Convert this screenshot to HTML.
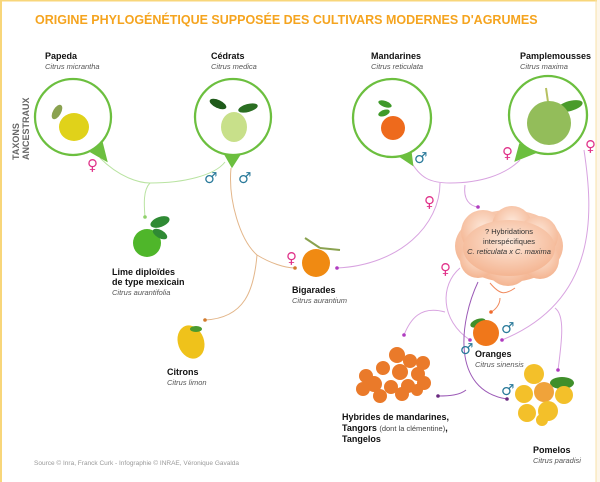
<!DOCTYPE html>
<html><head><meta charset="utf-8"><style>
html,body{margin:0;padding:0;background:#fff;}
svg{display:block;font-family:"Liberation Sans",sans-serif;}
.b{font-weight:bold;font-size:9px;fill:#111;}
.i{font-style:italic;font-size:7.5px;fill:#555;}
.f{fill:#e0338a;font-size:15px;font-family:"DejaVu Sans",sans-serif;}
.m{fill:#2a7a9a;font-size:15px;font-family:"DejaVu Sans",sans-serif;}
</style></head><body>
<svg width="600" height="482" viewBox="0 0 600 482" xmlns="http://www.w3.org/2000/svg">
<defs>
<radialGradient id="cl" cx="50%" cy="40%" r="60%"><stop offset="0" stop-color="#fde8da"/><stop offset="1" stop-color="#f4b592"/></radialGradient>
</defs>
<rect x="0" y="0" width="600" height="482" fill="#fff"/>
<rect x="596" y="0" width="4" height="482" fill="#fdf6ea"/>
<rect x="0" y="0" width="2" height="482" fill="#f8d67a"/>
<rect x="0" y="0" width="597" height="1.5" fill="#f8d67a"/>
<line x1="596" y1="0" x2="596" y2="482" stroke="#f8e2a8" stroke-width="1"/>
<text x="35" y="24" font-size="12.5" font-weight="bold" fill="#f5a41f">ORIGINE PHYLOGÉNÉTIQUE SUPPOSÉE DES CULTIVARS MODERNES D'AGRUMES</text>
<text transform="translate(19,160) rotate(-90)" font-size="9" font-weight="bold" fill="#666">TAXONS</text>
<text transform="translate(29,160) rotate(-90)" font-size="9" font-weight="bold" fill="#666">ANCESTRAUX</text>

<g fill="none" stroke-width="1">
<path d="M100,158 C120,178 140,183 150,183 C185,183 215,175 225,162" stroke="#b9e3a1"/>
<path d="M150,183 C143,190 144,205 145,217" stroke="#b9e3a1"/>
<path d="M231,168 C228,200 240,240 257,255 C270,263 285,268 295,268" stroke="#e3b68a"/>
<path d="M257,255 C254,290 245,318 205,320" stroke="#e3b68a"/>
<path d="M410,160 C420,178 430,183 450,183 C480,183 505,175 520,160" stroke="#d8a3e0"/>
<path d="M440,183 C440,225 400,265 337,268" stroke="#d8a3e0"/>
<path d="M465,185 C463,200 470,206 478,207" stroke="#d8a3e0"/>
<path d="M584,150 C593,210 600,300 502,340" stroke="#d8a3e0"/>
<path d="M555,308 C565,315 562,340 558,370" stroke="#d8a3e0"/>
<path d="M460,268 C440,285 440,320 470,340" stroke="#d8a3e0"/>
<path d="M478,282 C460,320 450,390 507,399" stroke="#9b59b6"/>
<path d="M445,312 C420,305 410,320 404,335" stroke="#d8a3e0"/>
<path d="M466,390 C460,395 450,396 438,396" stroke="#9b59b6"/>
<path d="M490,283 C500,295 505,295 515,288 M500,298 C500,305 495,310 491,312" stroke="#f08a5d"/>
</g>
<g>
<circle cx="145" cy="217" r="1.8" fill="#8fd16a"/>
<circle cx="295" cy="268" r="1.8" fill="#d27a2c"/>
<circle cx="205" cy="320" r="1.8" fill="#d27a2c"/>
<circle cx="337" cy="268" r="1.8" fill="#b03cc0"/>
<circle cx="478" cy="207" r="1.8" fill="#b03cc0"/>
<circle cx="502" cy="340" r="1.8" fill="#b03cc0"/>
<circle cx="558" cy="370" r="1.8" fill="#b03cc0"/>
<circle cx="470" cy="340" r="1.8" fill="#b03cc0"/>
<circle cx="507" cy="399" r="1.8" fill="#6a2a80"/>
<circle cx="404" cy="335" r="1.8" fill="#b03cc0"/>
<circle cx="438" cy="396" r="1.8" fill="#6a2a80"/>
<circle cx="491" cy="312" r="1.8" fill="#f06a2d"/>
</g>

<g fill="#fff" stroke="#6cbf3f" stroke-width="2.3">
<path d="M92,152 L106,160 L102,144Z" fill="#6cbf3f"/>
<circle cx="73" cy="117" r="38"/>
<path d="M224,152 L232,166 L241,152Z" fill="#6cbf3f"/>
<circle cx="233" cy="117" r="38"/>
<path d="M394,152 L412,164 L410,148Z" fill="#6cbf3f"/>
<circle cx="392" cy="118" r="39"/>
<path d="M520,145 L516,160 L536,152Z" fill="#6cbf3f"/>
<circle cx="548" cy="115" r="39"/>
</g>
<ellipse cx="57" cy="112" rx="4" ry="8" fill="#8aa250" transform="rotate(30 57 112)"/>
<ellipse cx="74" cy="127" rx="15" ry="14" fill="#e0d21a"/>
<ellipse cx="218" cy="104" rx="9" ry="4" fill="#1f5a1a" transform="rotate(25 218 104)"/>
<ellipse cx="248" cy="108" rx="10" ry="4" fill="#2a6e22" transform="rotate(-15 248 108)"/>
<ellipse cx="234" cy="127" rx="13" ry="15" fill="#c8e08a"/>
<ellipse cx="385" cy="104" rx="7" ry="3" fill="#3f9a2a" transform="rotate(20 385 104)"/>
<ellipse cx="384" cy="113" rx="6" ry="3" fill="#3f9a2a" transform="rotate(-20 384 113)"/>
<circle cx="393" cy="128" r="12" fill="#ee6a1c"/>
<line x1="546" y1="88" x2="548" y2="102" stroke="#b6c060" stroke-width="2"/>
<ellipse cx="570" cy="106" rx="13" ry="5" fill="#4a9b2a" transform="rotate(-15 570 106)"/>
<circle cx="549" cy="123" r="22" fill="#93bd5a"/>

<ellipse cx="160" cy="222" rx="10" ry="5" fill="#2f8a34" transform="rotate(-20 160 222)"/>
<circle cx="147" cy="243" r="14" fill="#4fb62a"/>
<ellipse cx="160" cy="234" rx="8" ry="4" fill="#2f8a34" transform="rotate(30 160 234)"/>
<ellipse cx="191" cy="342" rx="13" ry="17" fill="#efc21b" transform="rotate(-20 191 342)"/>
<ellipse cx="196" cy="329" rx="6" ry="3" fill="#4b9a2e"/>
<path d="M305,238 L320,248 M320,248 L340,250" stroke="#8aa250" stroke-width="2" fill="none"/>
<circle cx="316" cy="263" r="14" fill="#f08a12"/>
<ellipse cx="478" cy="323" rx="8" ry="4" fill="#3f8f2a" transform="rotate(-20 478 323)"/>
<circle cx="486" cy="333" r="13" fill="#f0771a"/>
<g fill="#ea7a2a">
<circle cx="397" cy="355" r="8"/><circle cx="410" cy="361" r="7"/><circle cx="383" cy="368" r="7"/><circle cx="400" cy="372" r="8"/>
<circle cx="418" cy="374" r="7"/><circle cx="423" cy="363" r="7"/><circle cx="366" cy="376" r="7"/><circle cx="374" cy="384" r="8"/>
<circle cx="391" cy="387" r="7"/><circle cx="408" cy="386" r="7"/><circle cx="424" cy="383" r="7"/><circle cx="363" cy="389" r="7"/>
<circle cx="380" cy="396" r="7"/><circle cx="402" cy="394" r="7"/><circle cx="417" cy="390" r="6"/>
</g>
<ellipse cx="562" cy="383" rx="12" ry="6" fill="#3f8f2a"/>
<g fill="#f3c02a">
<circle cx="534" cy="374" r="10"/><circle cx="524" cy="394" r="9"/><circle cx="544" cy="392" r="10" fill="#f0a33a"/><circle cx="564" cy="395" r="9"/>
<circle cx="527" cy="413" r="9"/><circle cx="548" cy="411" r="10"/><circle cx="542" cy="420" r="6"/>
</g>

<g fill="url(#cl)">
<ellipse cx="509" cy="246" rx="54" ry="36"/>
<circle cx="483" cy="232" r="22"/><circle cx="512" cy="226" r="20"/><circle cx="538" cy="236" r="20"/>
<circle cx="540" cy="260" r="19"/><circle cx="508" cy="264" r="22"/><circle cx="478" cy="260" r="18"/>
<ellipse cx="509" cy="248" rx="46" ry="28"/>
</g>
<text x="509" y="234" font-size="7.5" fill="#333" text-anchor="middle">? Hybridations</text>
<text x="509" y="244" font-size="7.5" fill="#333" text-anchor="middle">interspécifiques</text>
<text x="509" y="254" font-size="7.5" font-style="italic" fill="#333" text-anchor="middle">C. reticulata x C. maxima</text>

<text x="87" y="170" class="f">♀</text>
<text x="204" y="183" class="m">♂</text>
<text x="238" y="183" class="m">♂</text>
<text x="414" y="163" class="m">♂</text>
<text x="502" y="158" class="f">♀</text>
<text x="585" y="151" class="f">♀</text>
<text x="424" y="207" class="f">♀</text>
<text x="286" y="263" class="f">♀</text>
<text x="440" y="274" class="f">♀</text>
<text x="501" y="333" class="m">♂</text>
<text x="460" y="354" class="m">♂</text>
<text x="501" y="395" class="m">♂</text>

<text x="45" y="59" class="b">Papeda</text><text x="45" y="69" class="i">Citrus micrantha</text>
<text x="211" y="59" class="b">Cédrats</text><text x="211" y="69" class="i">Citrus medica</text>
<text x="371" y="59" class="b">Mandarines</text><text x="371" y="69" class="i">Citrus reticulata</text>
<text x="520" y="59" class="b">Pamplemousses</text><text x="520" y="69" class="i">Citrus maxima</text>
<text x="112" y="275" class="b">Lime diploïdes</text><text x="112" y="285" class="b">de type mexicain</text><text x="112" y="295" class="i">Citrus aurantifolia</text>
<text x="167" y="375" class="b">Citrons</text><text x="167" y="385" class="i">Citrus limon</text>
<text x="292" y="293" class="b">Bigarades</text><text x="292" y="303" class="i">Citrus aurantium</text>
<text x="475" y="357" class="b">Oranges</text><text x="475" y="367" class="i">Citrus sinensis</text>
<text x="342" y="420" class="b">Hybrides de mandarines,</text>
<text x="342" y="431" class="b">Tangors <tspan font-weight="normal" font-size="7.5" fill="#444">(dont la clémentine)</tspan>,</text>
<text x="342" y="442" class="b">Tangelos</text>
<text x="533" y="453" class="b">Pomelos</text><text x="533" y="463" class="i">Citrus paradisi</text>
<text x="34" y="465" font-size="6.5" fill="#999">Source © Inra, Franck Curk - Infographie © INRAE, Véronique Gavalda</text>
</svg>
</body></html>
